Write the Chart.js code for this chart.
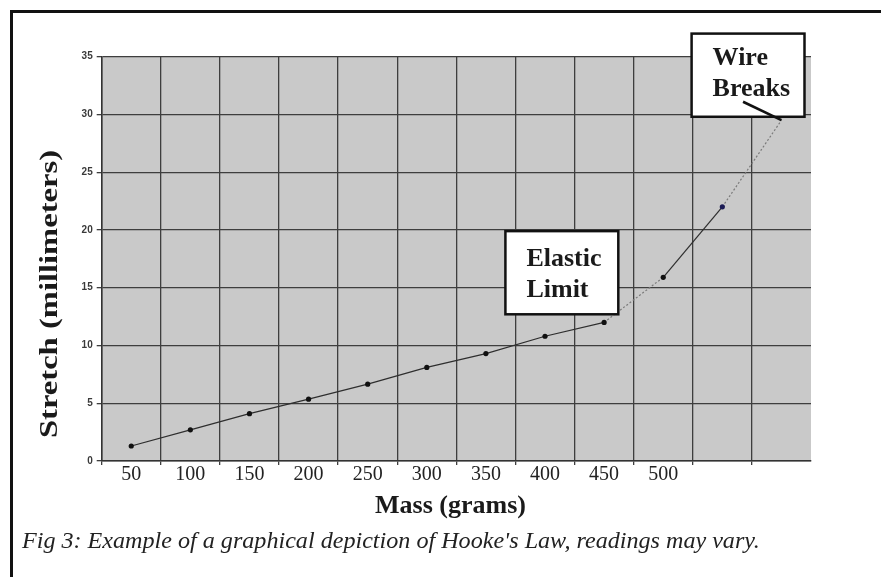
<!DOCTYPE html>
<html><head><meta charset="utf-8">
<script src="https://cdn.jsdelivr.net/npm/chart.js@4.4.0/dist/chart.umd.min.js"></script>
<style>html,body{margin:0;padding:0;background:#fff;overflow:hidden}#wrap{position:relative;width:881px;height:577px}canvas{display:block}</style>
</head><body><div id="wrap"><canvas id="c" width="881" height="577"></canvas></div>
<script>
// ---- data ----
const massLabels = ['50', '100', '150', '200', '250', '300', '350', '400', '450', '500', '', ''];
const stretchValues = [1.3, 2.7, 4.1, 5.35, 6.65, 8.1, 9.3, 10.8, 12.0, 15.9, 22.0, 29.5];
const yMin = 0, yMax = 35, yStep = 5;
const yTitle = 'Stretch (millimeters)';
const xTitle = 'Mass (grams)';
const caption = "Fig 3: Example of a graphical depiction of Hooke's Law, readings may vary.";
const elasticLabel = ['Elastic', 'Limit'];
const breakLabel = ['Wire', 'Breaks'];
// annotation anchors in scale units (category index, stretch value)
const elasticBox = { i0: 6.33, i1: 8.24, v0: 19.9, v1: 12.7 };
const breakBox = { i0: 9.48, i1: 11.39, v0: 37.0, v1: 29.8 };
const breakPointerFrom = { i: 10.35, v: 31.1 };

const SERIF = "'Liberation Serif', 'Times New Roman', serif";
const GRID = '#3e3e3e';

function idxPx(x, i) { // fractional category index -> pixel
  const a = x.getPixelForValue(0), b = x.getPixelForValue(1);
  return a + (b - a) * i;
}

const decor = {
  id: 'decor',
  beforeDraw(chart) {
    const { ctx, chartArea: ca } = chart;
    ctx.save();
    ctx.fillStyle = '#c9c9c9';
    ctx.fillRect(ca.left, ca.top, ca.right - ca.left, ca.bottom - ca.top);
    ctx.restore();
  },
  afterDraw(chart) {
    const { ctx } = chart;
    const x = chart.scales.x, y = chart.scales.y;
    ctx.save();
    // outer frame
    ctx.strokeStyle = '#111';
    ctx.lineWidth = 3;
    ctx.beginPath();
    ctx.moveTo(11.5, 600); ctx.lineTo(11.5, 11.5); ctx.lineTo(900, 11.5);
    ctx.stroke();

    // boxes
    function box(b, lines, dx, baselines) {
      const l = idxPx(x, b.i0), r = idxPx(x, b.i1);
      const t = y.getPixelForValue(b.v0), btm = y.getPixelForValue(b.v1);
      ctx.fillStyle = '#fff';
      ctx.fillRect(l, t, r - l, btm - t);
      ctx.strokeStyle = '#111';
      ctx.lineWidth = 2.5;
      ctx.strokeRect(l, t, r - l, btm - t);
      ctx.fillStyle = '#1a1a1a';
      ctx.font = 'bold 26px ' + SERIF;
      ctx.textAlign = 'left';
      ctx.textBaseline = 'alphabetic';
      lines.forEach((s, k) => ctx.fillText(s, l + dx, t + baselines[k]));
    }
    box(elasticBox, elasticLabel, 21, [34.5, 66]);
    box(breakBox, breakLabel, 21, [31, 62.5]);

    // pointer from Wire Breaks box to last point
    const last = stretchValues.length - 1;
    ctx.strokeStyle = '#111';
    ctx.lineWidth = 2.5;
    ctx.beginPath();
    ctx.moveTo(idxPx(x, breakPointerFrom.i), y.getPixelForValue(breakPointerFrom.v));
    ctx.lineTo(x.getPixelForValue(last), y.getPixelForValue(stretchValues[last]));
    ctx.stroke();

    // y title (rotated)
    ctx.fillStyle = '#1a1a1a';
    ctx.font = 'bold 26px ' + SERIF;
    const w = ctx.measureText(yTitle).width;
    ctx.save();
    ctx.translate(57, 294);
    ctx.rotate(-Math.PI / 2);
    ctx.scale(288 / w, 1);
    ctx.textAlign = 'center';
    ctx.textBaseline = 'alphabetic';
    ctx.fillText(yTitle, 0, 0);
    ctx.restore();

    // x title
    ctx.font = 'bold 26px ' + SERIF;
    ctx.textAlign = 'center';
    ctx.textBaseline = 'alphabetic';
    ctx.fillText(xTitle, 450.5, 513);

    // caption
    ctx.font = 'italic 22px ' + SERIF;
    const ref = ctx.measureText("Fig 3: Example of a graphical depiction of Hooke's Law, read").width;
    const fs = 22 * 598 / ref;
    ctx.font = 'italic ' + fs.toFixed(2) + 'px ' + SERIF;
    ctx.textAlign = 'left';
    ctx.fillStyle = '#222';
    ctx.fillText(caption, 22, 548);
    ctx.restore();
  }
};

new Chart(document.getElementById('c'), {
  type: 'line',
  data: {
    labels: massLabels,
    datasets: [{
      data: stretchValues,
      borderColor: '#2e2e2e',
      borderWidth: 1.2,
      tension: 0,
      fill: false,
      pointRadius: ctx => ctx.dataIndex === stretchValues.length - 1 ? 0 : 2.6,
      pointBackgroundColor: ctx => ctx.dataIndex === 10 ? '#1c1c55' : '#111',
      pointBorderWidth: 0,
      segment: {
        borderColor: c => (c.p0DataIndex === 8 || c.p0DataIndex === 10) ? '#7a7a7a' : '#2e2e2e',
        borderDash: c => (c.p0DataIndex === 8 || c.p0DataIndex === 10) ? [2, 2] : []
      }
    }]
  },
  options: {
    responsive: false,
    animation: false,
    devicePixelRatio: 1,
    layout: { padding: { left: 0, right: 70, top: 56.7, bottom: 0 } },
    plugins: { legend: { display: false }, tooltip: { enabled: false } },
    scales: {
      x: {
        type: 'category',
        offset: true,
        grid: {
          offset: true,
          color: c => c.type === 'tick' ? GRID : 'rgba(0,0,0,0)',
          lineWidth: 1.3,
          tickLength: 4
        },
        border: { display: true, color: '#333', width: 1.5 },
        ticks: {
          autoSkip: false,
          maxRotation: 0,
          padding: -2,
          color: '#222',
          font: { family: SERIF, size: 20 }
        },
        afterFit(s) { s.height = 116; }
      },
      y: {
        min: yMin, max: yMax,
        grid: { color: GRID, lineWidth: 1.3, tickLength: 5 },
        border: { display: true, color: '#333', width: 1.5 },
        ticks: {
          stepSize: yStep,
          padding: 4,
          color: '#3a3a3a',
          font: { family: "'Liberation Sans', Arial, sans-serif", size: 10, weight: 'bold' }
        },
        afterFit(s) { s.width = 101.7; }
      }
    }
  },
  plugins: [decor]
});
</script>
</body></html>
